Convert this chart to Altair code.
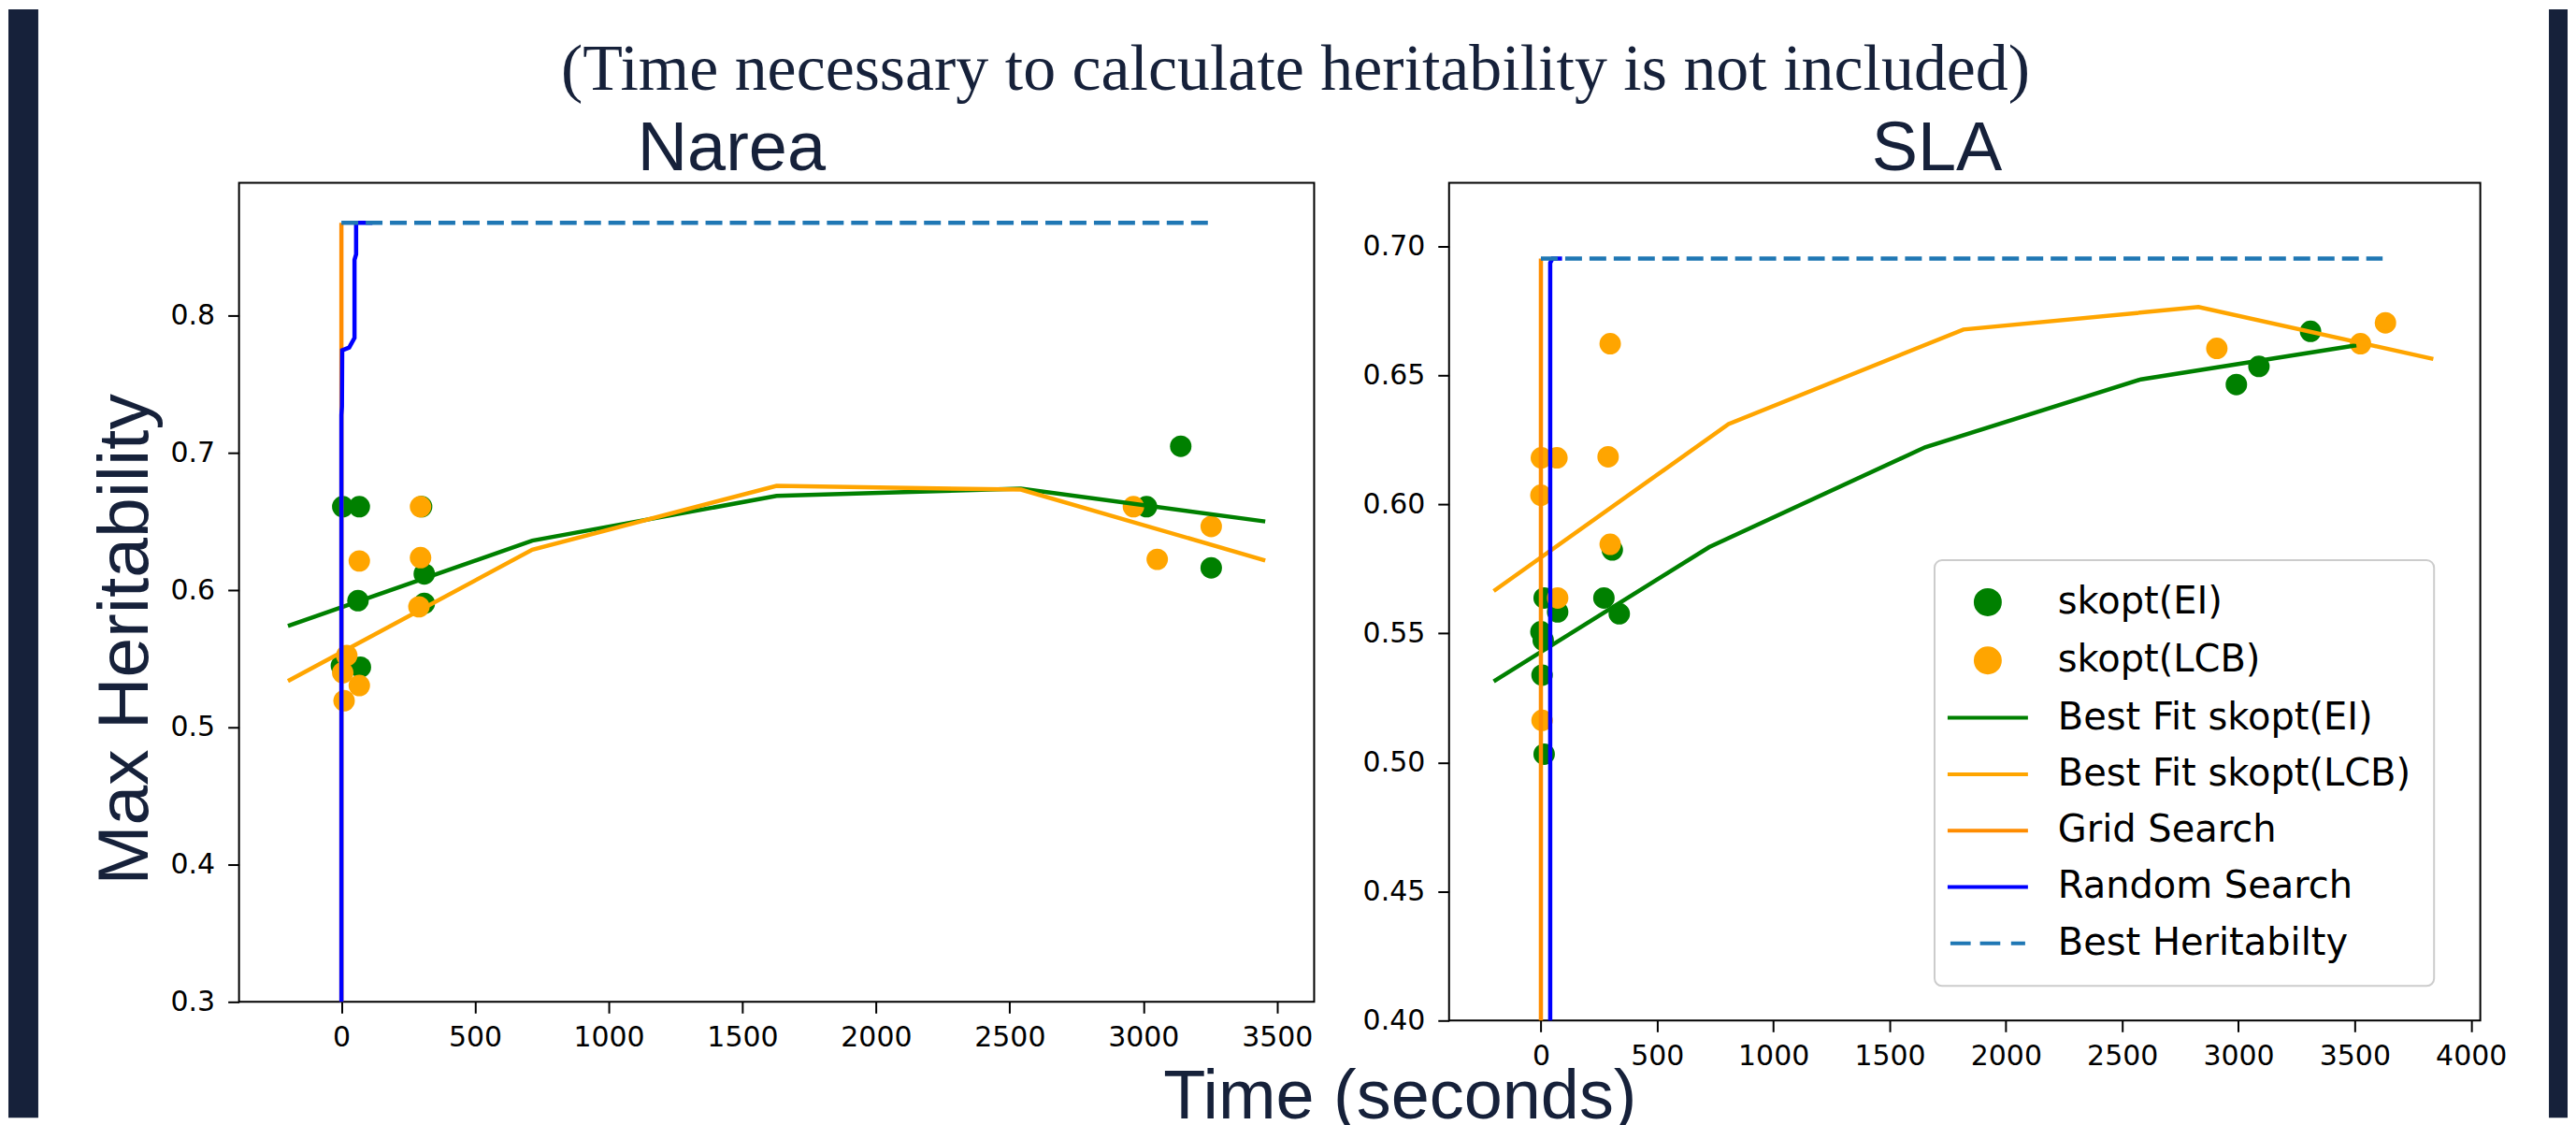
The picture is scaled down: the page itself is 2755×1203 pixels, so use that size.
import altair as alt
import pandas as pd

# ---------------- colours / styles ----------------
NAVY = "#16213a"
GREEN = "#008000"
ORANGE = "#ffa500"
DARKORANGE = "#ff8c00"
BLUE = "#0000ff"
TABBLUE = "#1f77b4"
LINE_W = 4.5

# ---------------- legend series ----------------
series_names = ["skopt(EI)", "skopt(LCB)", "Best Fit skopt(EI)", "Best Fit skopt(LCB)",
                "Grid Search", "Random Search", "Best Heritabilty"]
series_colors = [GREEN, ORANGE, GREEN, ORANGE, DARKORANGE, BLUE, TABBLUE]
LINE_PATH = "M-3.31,0H3.31"
DASH_PATH = "M-3.08,0H-1.41M-0.64,0H1.03M1.92,0H3.08"
legend_shapes = ["circle", "circle", LINE_PATH, LINE_PATH, LINE_PATH, LINE_PATH, DASH_PATH]

# ---------------- Narea data ----------------
narea_ei_time = [5, 67, 300, 310, 62, 310, 71, 0, 3012, 3140, 3254]
narea_ei_h = [0.661, 0.661, 0.661, 0.612, 0.5925, 0.5905, 0.544, 0.545, 0.661, 0.705, 0.6164]
narea_lcb_time = [296, 67, 296, 290, 20, 5, 67, 10, 2963, 3052, 3254]
narea_lcb_h = [0.661, 0.6214, 0.6238, 0.588, 0.5525, 0.540, 0.5306, 0.5195, 0.661, 0.6226, 0.6466]
narea_fit_time = [-200, 714, 1628, 2542, 3456]
narea_fit_ei = [0.574, 0.6362, 0.6688, 0.6742, 0.6502]
narea_fit_lcb = [0.5339, 0.6296, 0.6762, 0.6734, 0.6218]
narea_grid_time = [0, 0]
narea_grid_h = [0.30, 0.868]
narea_random_time = [0, 0, 2, 3, 29, 46, 49, 49, 55, 55, 116]
narea_random_h = [0.30, 0.728, 0.734, 0.775, 0.777, 0.783, 0.784, 0.841, 0.845, 0.868, 0.868]
narea_best_time = [0, 3250]
narea_best_h = [0.868, 0.868]

# ---------------- SLA data ----------------
sla_ei_time = [14, 72, 307, 271, 337, 0, 10, 5, 14, 2991, 3088, 3310]
sla_ei_h = [0.5637, 0.5583, 0.5823, 0.5637, 0.5576, 0.5506, 0.5473, 0.5338, 0.5032, 0.6464, 0.6534, 0.667]
sla_lcb_time = [298, 2, 69, 289, 0, 298, 72, 5, 2907, 3525, 3632]
sla_lcb_h = [0.6622, 0.618, 0.618, 0.6184, 0.6035, 0.5845, 0.5637, 0.5163, 0.6604, 0.6622, 0.6703]
sla_fit_ei_time = [-203, 724, 1652, 2580, 3507]
sla_fit_ei = [0.5314, 0.5834, 0.6221, 0.6484, 0.6616]
sla_fit_lcb_time = [-203, 807, 1817, 2828, 3838]
sla_fit_lcb = [0.5664, 0.6311, 0.6677, 0.6764, 0.6563]
sla_grid_time = [0, 0]
sla_grid_h = [0.40, 0.6952]
sla_random_time = [40, 40, 50, 91]
sla_random_h = [0.40, 0.6935, 0.6952, 0.6952]
sla_best_time = [0, 3620]
sla_best_h = [0.6952, 0.6952]

# ---------------- axes ----------------
narea_x_ticks = [0, 500, 1000, 1500, 2000, 2500, 3000, 3500]
narea_y_ticks = [0.3, 0.4, 0.5, 0.6, 0.7, 0.8]
narea_x_domain = [-383, 3639]
narea_y_domain = [0.3, 0.897]
sla_x_ticks = [0, 500, 1000, 1500, 2000, 2500, 3000, 3500, 4000]
sla_y_ticks = [0.40, 0.45, 0.50, 0.55, 0.60, 0.65, 0.70]
sla_x_domain = [-395, 4040]
sla_y_domain = [0.40, 0.7245]

TOP = 186          # distance from chart top to the plot areas
TOTAL_H = 1187


def df_of(xs, ys, name=None):
    d = pd.DataFrame({"t": xs, "h": ys, "i": list(range(len(xs)))})
    if name is not None:
        d["series"] = name
    return d


def axis_common(**kw):
    return dict(grid=False, domain=False, tickSize=12, tickWidth=2, tickColor="black",
                labelFont="DejaVu Sans", labelFontSize=30, labelColor="black", **kw)


def make_panel(xdom, ydom, xticks, yticks, yfmt, ei, lcb, fit_ei, fit_lcb, grid, rnd, best,
               w, h, title, title_dx, xaxis_extra, yaxis_extra, legend=None):
    xsc = alt.Scale(domain=xdom, nice=False, zero=False)
    ysc = alt.Scale(domain=ydom, nice=False, zero=False)
    xax = alt.Axis(values=xticks, format="d", labelPadding=11, **axis_common(**xaxis_extra))
    yax = alt.Axis(values=yticks, format=yfmt, labelPadding=14, **axis_common(**yaxis_extra))
    X = alt.X("t:Q", scale=xsc, axis=xax)
    Y = alt.Y("h:Q", scale=ysc, axis=yax)

    layers = []
    if legend is None:
        layers.append(alt.Chart(df_of(*ei)).mark_circle(size=529, opacity=1, color=GREEN)
                      .encode(x=X, y=Y))
        layers.append(alt.Chart(df_of(*lcb)).mark_circle(size=529, opacity=1, color=ORANGE)
                      .encode(x=X, y=Y))
    else:
        pts = pd.concat([df_of(*ei, name=series_names[0]), df_of(*lcb, name=series_names[1])],
                        ignore_index=True)
        layers.append(
            alt.Chart(pts).mark_point(filled=True, size=361, strokeWidth=4, opacity=1).encode(
                x=X, y=Y,
                fill=alt.Fill("series:N", scale=alt.Scale(domain=series_names, range=series_colors),
                              legend=legend),
                stroke=alt.Stroke("series:N", scale=alt.Scale(domain=series_names, range=series_colors),
                                  legend=legend),
                shape=alt.Shape("series:N", scale=alt.Scale(domain=series_names, range=legend_shapes),
                                legend=legend),
            ))
    line_specs = [(fit_ei, GREEN, None), (fit_lcb, ORANGE, None), (grid, DARKORANGE, None),
                  (rnd, BLUE, None), (best, TABBLUE, [18, 8])]
    for data, col, dash in line_specs:
        kw = dict(color=col, strokeWidth=LINE_W)
        if dash:
            kw["strokeDash"] = dash
        layers.append(alt.Chart(df_of(*data)).mark_line(**kw).encode(x=X, y=Y, order="i:Q"))

    return alt.layer(*layers).properties(
        width=w, height=h,
        view=alt.ViewBackground(stroke="black", strokeWidth=2, fill="white"),
        title=alt.TitleParams(title, font="Liberation Sans", fontSize=74, fontWeight="normal",
                              color=NAVY, anchor="middle", frame="group", dx=title_dx,
                              offset=-60, baseline="alphabetic"),
    )


NAREA_W, NAREA_H = 1151.5, 877
SLA_W, SLA_H = 1104.5, 897

narea = make_panel(
    narea_x_domain, narea_y_domain, narea_x_ticks, narea_y_ticks, ".1f",
    (narea_ei_time, narea_ei_h), (narea_lcb_time, narea_lcb_h),
    (narea_fit_time, narea_fit_ei), (narea_fit_time, narea_fit_lcb),
    (narea_grid_time, narea_grid_h), (narea_random_time, narea_random_h),
    (narea_best_time, narea_best_h),
    NAREA_W, NAREA_H, "Narea", -48.25,
    dict(title="Time (seconds)", titleFont="Liberation Sans", titleFontSize=74,
         titleFontWeight="normal", titleColor=NAVY, titleX=1243,
         titleY=TOTAL_H - TOP - NAREA_H, titleAlign="center", titleBaseline="alphabetic"),
    dict(title="Max Heritability", titleFont="Liberation Sans", titleFontSize=77,
         titleFontWeight="normal", titleColor=NAVY, titleX=-97.8, titleY=488.5,
         titleAngle=270, titleAlign="center", titleBaseline="alphabetic"),
)

# legend position is measured from the left/top of the row of panels
sla_legend = alt.Legend(
    title=None, orient="none", legendX=2063, legendY=404, direction="vertical",
    fillColor="white", strokeColor="#cccccc", cornerRadius=8, padding=25,
    rowPadding=20.4, symbolSize=676, symbolStrokeWidth=4, symbolOffset=12, labelOffset=55,
    symbolOpacity=1, labelFont="DejaVu Sans", labelFontSize=40, labelColor="black",
    labelLimit=1000,
)

sla = make_panel(
    sla_x_domain, sla_y_domain, sla_x_ticks, sla_y_ticks, ".2f",
    (sla_ei_time, sla_ei_h), (sla_lcb_time, sla_lcb_h),
    (sla_fit_ei_time, sla_fit_ei), (sla_fit_lcb_time, sla_fit_lcb),
    (sla_grid_time, sla_grid_h), (sla_random_time, sla_random_h),
    (sla_best_time, sla_best_h),
    SLA_W, SLA_H, "SLA", -29.75,
    dict(title=None), dict(title=None), legend=sla_legend,
)

one = alt.Data(values=[{"k": 1}])

strip_left = alt.Chart(one).mark_rect(color=NAVY).encode(
    x=alt.value(0), x2=alt.value(32), y=alt.value(-TOP), y2=alt.value(TOTAL_H - TOP)
).properties(width=246.5, height=10)

strip_right = alt.Chart(one).mark_rect(color=NAVY).encode(
    x=alt.value(73), x2=alt.value(93), y=alt.value(-TOP), y2=alt.value(TOTAL_H - TOP)
).properties(width=93, height=10)

middle = alt.Chart(one).mark_point(opacity=0, size=0).encode(
    x=alt.value(0), y=alt.value(0)
).properties(
    width=143.5, height=10,
    title=alt.TitleParams("(Time necessary to calculate heritability is not included)",
                          font="Liberation Serif", fontSize=70, fontWeight="normal",
                          color=NAVY, anchor="middle", frame="group", dx=-92.25,
                          offset=30, baseline="alphabetic"),
)

chart = alt.hconcat(
    strip_left, narea, middle, sla, strip_right, spacing=0, bounds="flush"
).properties(padding=0).configure_view(stroke="transparent").configure_legend(strokeWidth=2)

chart.save("out.html", embed_options={"renderer": "svg", "actions": False})
